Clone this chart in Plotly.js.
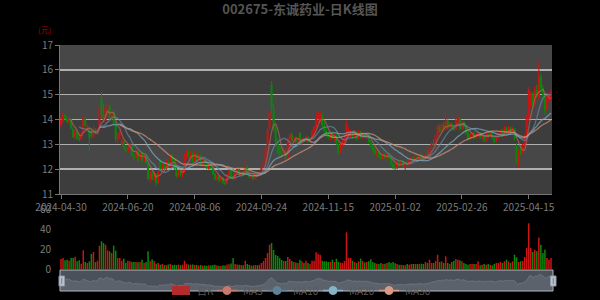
<!DOCTYPE html>
<html>
<head>
<meta charset="utf-8">
<script src="https://cdn.plot.ly/plotly-3.0.1.min.js"></script>
<style>
  html, body { margin: 0; padding: 0; background: #000; }
  #chart { width: 600px; height: 300px; }
</style>
</head>
<body>
<div id="chart"></div>
<script>
// Trading days
const dates = [
  '2024-04-30',
  '2024-05-06','2024-05-07','2024-05-08','2024-05-09','2024-05-10',
  '2024-05-13','2024-05-14','2024-05-15','2024-05-16','2024-05-17',
  '2024-05-20','2024-05-21','2024-05-22','2024-05-23','2024-05-24',
  '2024-05-27','2024-05-28','2024-05-29','2024-05-30','2024-05-31',
  '2024-06-03','2024-06-04','2024-06-05','2024-06-06','2024-06-07',
  '2024-06-11','2024-06-12','2024-06-13','2024-06-14',
  '2024-06-17','2024-06-18','2024-06-19','2024-06-20','2024-06-21',
  '2024-06-24','2024-06-25','2024-06-26','2024-06-27','2024-06-28',
  '2024-07-01','2024-07-02','2024-07-03','2024-07-04','2024-07-05',
  '2024-07-08','2024-07-09','2024-07-10','2024-07-11','2024-07-12',
  '2024-07-15','2024-07-16','2024-07-17','2024-07-18','2024-07-19',
  '2024-07-22','2024-07-23','2024-07-24','2024-07-25','2024-07-26',
  '2024-07-29','2024-07-30','2024-07-31','2024-08-01','2024-08-02',
  '2024-08-05','2024-08-06','2024-08-07','2024-08-08','2024-08-09',
  '2024-08-12','2024-08-13','2024-08-14','2024-08-15','2024-08-16',
  '2024-08-19','2024-08-20','2024-08-21','2024-08-22','2024-08-23',
  '2024-08-26','2024-08-27','2024-08-28','2024-08-29','2024-08-30',
  '2024-09-02','2024-09-03','2024-09-04','2024-09-05','2024-09-06',
  '2024-09-09','2024-09-10','2024-09-11','2024-09-12','2024-09-13',
  '2024-09-18','2024-09-19','2024-09-20',
  '2024-09-23','2024-09-24','2024-09-25','2024-09-26','2024-09-27',
  '2024-09-30',
  '2024-10-08','2024-10-09','2024-10-10','2024-10-11',
  '2024-10-14','2024-10-15','2024-10-16','2024-10-17','2024-10-18',
  '2024-10-21','2024-10-22','2024-10-23','2024-10-24','2024-10-25',
  '2024-10-28','2024-10-29','2024-10-30','2024-10-31','2024-11-01',
  '2024-11-04','2024-11-05','2024-11-06','2024-11-07','2024-11-08',
  '2024-11-11','2024-11-12','2024-11-13','2024-11-14','2024-11-15',
  '2024-11-18','2024-11-19','2024-11-20','2024-11-21','2024-11-22',
  '2024-11-25','2024-11-26','2024-11-27','2024-11-28','2024-11-29',
  '2024-12-02','2024-12-03','2024-12-04','2024-12-05','2024-12-06',
  '2024-12-09','2024-12-10','2024-12-11','2024-12-12','2024-12-13',
  '2024-12-16','2024-12-17','2024-12-18','2024-12-19','2024-12-20',
  '2024-12-23','2024-12-24','2024-12-25','2024-12-26','2024-12-27',
  '2024-12-30','2024-12-31',
  '2025-01-02','2025-01-03',
  '2025-01-06','2025-01-07','2025-01-08','2025-01-09','2025-01-10',
  '2025-01-13','2025-01-14','2025-01-15','2025-01-16','2025-01-17',
  '2025-01-20','2025-01-21','2025-01-22','2025-01-23','2025-01-24',
  '2025-01-27',
  '2025-02-05','2025-02-06','2025-02-07',
  '2025-02-10','2025-02-11','2025-02-12','2025-02-13','2025-02-14',
  '2025-02-17','2025-02-18','2025-02-19','2025-02-20','2025-02-21',
  '2025-02-24','2025-02-25','2025-02-26','2025-02-27','2025-02-28',
  '2025-03-03','2025-03-04','2025-03-05','2025-03-06','2025-03-07',
  '2025-03-10','2025-03-11','2025-03-12','2025-03-13','2025-03-14',
  '2025-03-17','2025-03-18','2025-03-19','2025-03-20','2025-03-21',
  '2025-03-24','2025-03-25','2025-03-26','2025-03-27','2025-03-28',
  '2025-03-31','2025-04-01','2025-04-02','2025-04-03',
  '2025-04-07','2025-04-08','2025-04-09','2025-04-10','2025-04-11',
  '2025-04-14','2025-04-15','2025-04-16','2025-04-17','2025-04-18',
  '2025-04-21','2025-04-22','2025-04-23','2025-04-24','2025-04-25',
  '2025-04-28','2025-04-29','2025-04-30'
];

const openPrice = [
  13.75,13.95,14.18,14.05,13.90,14.00,13.62,13.28,13.52,13.25,
  13.20,13.45,14.00,13.60,13.68,13.55,13.30,13.60,13.45,13.60,
  14.85,14.20,13.95,14.40,14.55,14.05,14.30,13.85,13.18,13.35,
  13.00,13.12,12.85,12.70,12.85,12.95,12.55,12.45,12.70,12.40,
  12.65,12.35,12.55,12.20,11.60,11.85,11.58,11.80,11.45,12.35,
  12.00,12.15,12.00,12.28,12.10,12.50,12.35,12.02,11.72,11.90,
  11.78,11.88,12.48,12.70,12.50,12.62,12.30,12.60,12.38,12.55,
  12.20,12.35,12.25,12.02,12.20,12.08,11.82,11.60,11.70,11.55,
  11.65,11.48,11.42,11.75,11.92,11.70,11.60,11.85,12.00,11.78,
  11.88,11.78,12.10,11.85,11.68,11.72,11.62,11.78,11.75,11.95,
  12.12,12.30,12.95,13.65,15.40,14.40,13.65,13.10,12.90,12.60,
  12.50,12.72,12.45,13.20,13.38,13.15,13.28,13.10,13.45,13.05,
  13.22,13.15,13.28,13.12,13.25,13.55,13.70,14.10,13.95,14.20,
  13.78,13.55,13.40,13.28,13.38,13.25,13.38,13.02,12.70,12.95,
  13.10,13.25,13.40,13.30,13.50,13.30,13.48,13.22,13.50,13.35,
  13.42,13.30,13.38,13.10,12.92,12.78,12.62,12.70,12.52,12.42,
  12.58,12.48,12.62,12.45,12.22,12.08,12.05,12.30,12.15,12.35,
  12.10,12.25,12.15,12.40,12.48,12.36,12.50,12.40,12.58,12.45,
  12.38,12.62,12.58,12.92,13.05,13.00,13.35,13.70,13.52,13.78,
  13.62,13.95,13.68,13.82,13.65,13.60,13.95,14.02,13.62,13.88,
  13.70,13.45,13.22,13.40,13.45,13.25,13.42,13.48,13.28,13.35,
  13.15,13.40,13.35,13.48,13.25,13.12,13.35,13.42,13.55,13.35,
  13.65,13.48,13.68,13.58,13.60,12.95,12.30,12.70,12.65,12.98,
  13.30,14.05,14.55,15.05,14.60,15.20,14.90,15.70,15.25,14.95,
  14.40,14.75,14.80
];

const highPrice = [
  14.05,14.30,14.22,14.15,14.10,14.05,13.70,13.62,13.58,13.40,
  13.48,14.20,14.08,13.80,13.72,13.65,13.72,13.66,13.65,14.55,
  15.10,14.65,14.62,14.68,14.60,14.40,14.38,13.95,13.50,13.58,
  13.25,13.15,12.92,12.95,13.05,13.00,12.62,12.80,12.78,12.75,
  12.70,12.62,12.60,12.22,11.95,11.98,11.92,11.82,11.95,12.40,
  12.22,12.25,12.38,12.35,12.60,12.62,12.40,12.10,11.98,11.98,
  11.95,12.60,12.78,12.80,12.72,12.68,12.70,12.65,12.62,12.60,
  12.42,12.40,12.30,12.28,12.25,12.15,11.85,11.78,11.75,11.72,
  11.68,11.52,11.80,12.00,11.98,12.05,11.90,12.08,12.05,11.95,
  11.92,12.43,12.15,11.95,11.82,11.78,11.85,11.88,11.98,12.15,
  12.35,12.95,13.70,14.40,15.55,14.65,13.90,13.25,12.95,12.75,
  12.82,12.78,13.30,13.45,13.48,13.35,13.32,13.30,13.50,13.30,
  13.28,13.35,13.32,13.30,13.60,13.78,14.30,14.30,14.30,14.25,
  13.90,13.65,13.50,13.45,13.52,13.45,13.42,13.08,13.05,13.20,
  13.30,13.96,13.70,13.58,13.55,13.55,13.52,13.58,13.55,13.48,
  13.46,13.45,13.40,13.15,13.00,12.85,12.75,12.78,12.60,12.62,
  12.66,12.68,12.65,12.50,12.28,12.20,12.38,12.35,12.40,12.38,
  12.30,12.32,12.45,12.52,12.50,12.55,12.55,12.62,12.62,12.52,
  12.68,12.75,12.95,13.10,13.20,13.40,13.80,13.80,13.85,13.88,
  14.27,14.00,13.90,13.88,13.80,14.05,14.20,14.10,13.95,13.92,
  13.78,13.55,13.45,13.50,13.52,13.48,13.52,13.50,13.42,13.38,
  13.45,13.50,13.52,13.50,13.30,13.40,13.48,13.60,13.62,13.72,
  13.70,13.75,13.72,13.70,13.65,13.05,12.80,12.95,13.02,13.40,
  14.20,15.30,15.15,15.10,15.35,15.40,16.33,15.85,15.40,15.00,
  14.95,15.10,15.22
];

const lowPrice = [
  13.70,13.85,13.95,13.88,13.82,13.60,13.25,13.20,13.18,13.12,
  13.15,13.40,13.70,13.50,12.73,13.25,13.28,13.40,13.40,13.55,
  14.05,13.90,13.88,14.10,14.00,13.95,13.75,13.10,13.05,13.22,
  12.95,12.80,12.65,12.65,12.78,12.50,12.38,12.42,12.30,12.35,
  12.28,12.30,12.20,11.55,11.47,11.55,11.50,11.33,11.40,11.95,
  11.90,11.95,11.98,12.05,12.08,12.30,11.98,11.65,11.68,11.70,
  11.68,11.85,12.40,12.45,12.42,12.25,12.25,12.30,12.30,12.15,
  12.10,12.18,12.00,11.98,12.00,11.75,11.55,11.55,11.48,11.50,
  11.40,11.35,11.40,11.70,11.60,11.55,11.58,11.80,11.72,11.72,
  11.70,11.75,11.80,11.62,11.60,11.55,11.58,11.68,11.72,11.90,
  12.05,12.25,12.85,13.55,14.20,13.50,12.95,12.55,12.52,12.45,
  12.45,12.38,12.40,13.05,13.08,13.05,13.02,13.05,13.00,12.98,
  13.08,13.10,13.05,13.05,13.20,13.35,13.65,13.85,13.88,13.70,
  13.45,13.30,13.20,13.15,13.20,13.12,12.95,12.60,12.65,12.85,
  13.00,13.20,13.35,13.28,13.22,13.25,13.15,13.18,13.22,13.20,
  13.25,13.22,13.05,12.85,12.70,12.58,12.45,12.48,12.35,12.38,
  12.40,12.42,12.38,12.15,12.00,11.97,12.00,12.08,12.10,12.05,
  11.97,12.12,12.10,12.30,12.32,12.30,12.35,12.38,12.40,12.32,
  12.35,12.50,12.55,12.80,12.95,12.95,13.30,13.45,13.48,13.55,
  13.58,13.60,13.55,13.58,13.52,13.58,13.85,13.55,13.58,13.62,
  13.38,13.15,13.18,13.30,13.20,13.22,13.28,13.22,13.20,13.10,
  13.10,13.28,13.30,13.20,13.05,13.08,13.20,13.35,13.28,13.30,
  13.40,13.42,13.50,13.45,13.15,12.20,12.07,12.55,12.60,12.90,
  13.20,13.95,14.45,14.50,14.55,14.85,14.80,15.10,14.85,14.20,
  14.35,14.68,14.72
];

const closePrice = [
  13.98,14.20,14.02,13.92,14.02,13.65,13.30,13.55,13.22,13.20,
  13.42,14.05,13.78,13.70,13.25,13.32,13.62,13.45,13.58,14.48,
  14.15,13.98,14.50,14.58,14.08,14.30,13.85,13.20,13.40,13.48,
  13.15,12.85,12.72,12.88,12.98,12.55,12.45,12.72,12.38,12.66,
  12.35,12.55,12.25,11.62,11.88,11.60,11.85,11.45,11.90,12.02,
  12.15,12.02,12.30,12.12,12.52,12.38,12.05,11.72,11.92,11.78,
  11.88,12.50,12.70,12.52,12.65,12.30,12.62,12.38,12.55,12.20,
  12.35,12.25,12.05,12.22,12.10,11.82,11.60,11.72,11.55,11.66,
  11.48,11.42,11.75,11.92,11.65,11.62,11.85,12.00,11.78,11.90,
  11.76,12.10,11.85,11.68,11.75,11.60,11.80,11.75,11.92,12.10,
  12.28,12.88,13.60,14.30,14.45,13.60,13.10,12.65,12.60,12.52,
  12.78,12.45,13.22,13.38,13.15,13.28,13.10,13.25,13.05,13.22,
  13.15,13.30,13.12,13.25,13.55,13.70,14.15,14.20,14.22,13.78,
  13.55,13.38,13.28,13.40,13.25,13.38,13.05,12.68,12.98,13.12,
  13.25,13.85,13.55,13.50,13.30,13.48,13.22,13.50,13.30,13.42,
  13.30,13.40,13.10,12.92,12.78,12.62,12.70,12.52,12.42,12.58,
  12.48,12.62,12.45,12.22,12.08,12.05,12.32,12.15,12.36,12.12,
  12.25,12.18,12.40,12.48,12.36,12.50,12.40,12.58,12.45,12.38,
  12.62,12.58,12.90,13.05,13.00,13.35,13.72,13.52,13.78,13.62,
  13.95,13.68,13.82,13.65,13.60,13.98,14.05,13.62,13.88,13.70,
  13.45,13.22,13.40,13.45,13.25,13.42,13.48,13.28,13.35,13.15,
  13.40,13.35,13.48,13.25,13.12,13.35,13.42,13.55,13.35,13.65,
  13.48,13.68,13.58,13.62,13.22,12.30,12.72,12.62,12.98,13.30,
  14.15,15.20,15.05,14.60,15.20,14.95,15.75,15.25,14.95,14.35,
  14.85,15.00,15.10
];

// Daily volume
const volume = [
  10,11,8.7,9.3,8.3,11,11,12.3,7.7,8.7,
  5.3,18.7,7,6,7.7,15,17,7,8.3,23.3,
  27.7,26,24.3,18.7,17.7,16,23.3,18.3,11,11,
  8.3,10.3,6,8.3,7.7,7,7,7,6.7,7,
  9.3,6,7,17.7,7.7,9.7,8,5.3,6,4.3,
  5,3.7,4,4.5,5,4,4.3,4,4.5,3.8,
  4.3,8.3,5,4.5,4.3,4.6,4,4,3.5,4,
  3.3,3.5,3.2,3.8,3.5,4,4.2,3.5,3.3,3,
  3.8,3.5,4.5,4.8,5.5,11,5,4.5,4.2,4,
  3.8,8.3,5,4.2,3.5,3.5,4,3.8,4.3,6,
  8,11,16,24.3,26,19,14,13,11,9,
  8,8,12,10,8,7,6.5,6,9.3,7.7,
  6,8.3,6,5,8.3,8.3,16.7,15,14.3,8.3,
  7.7,7.7,7,7,9.3,7,10.3,7,6.5,6,
  8,36.7,11,11,8.3,7,6,7.7,10.3,8,
  6.5,7,7.7,9.7,7,6,5.3,5,6,5,
  5.3,6,7,6,7,5.7,5,4.3,4.3,3.7,
  3.7,5,4.3,5,5,5,5,5,5.3,5,
  7,6,9.3,6,6,8,14.3,7,7.7,6,
  12.7,6,5,7,8.3,10,9.3,8.7,7.7,6,
  5,4.3,5,5,5,5,7.7,3.7,4.3,5,
  4.3,5,4.3,3.7,5,6,6,7,6,7.7,
  9.3,7.7,6,7.7,14.3,11.7,7,7.7,8,12,
  21,45.7,21,17,19.3,17.7,31.5,24.3,16,19.3,
  11,9.3,11
];

const tickDates = ['2024-04-30','2024-06-20','2024-08-06','2024-09-24','2024-11-15','2025-01-02','2025-02-26','2025-04-15'];
const maPeriods = [5, 10, 20, 30];
const maNames = ['MA5', 'MA10', 'MA20', 'MA30'];
const maColors = ['rgba(200,100,92,0.6)', 'rgba(95,135,160,0.72)', 'rgba(125,170,190,0.72)', 'rgba(212,145,122,0.72)'];
const legendColors = ['#c97870', '#5f8198', '#86b4c6', '#d89a86'];

const UP = '#cc1414';
const DOWN = '#0a880a';
const FONT = '"Noto Sans CJK SC", "Noto Sans", sans-serif';

// pixel helpers (600 x 300 canvas)
const W = 600, H = 300;
const px = x => x / W;
const py = y => 1 - y / H;

function movingAverage(n) {
  const out = [];
  for (let i = 0; i < closePrice.length; i++) {
    if (i < n - 1) { out.push(null); continue; }
    let s = 0;
    for (let k = i - n + 1; k <= i; k++) s += closePrice[k];
    out.push(+(s / n).toFixed(3));
  }
  return out;
}

const N = dates.length;
const xRange = [-0.5, N - 0.5];
const volColors = closePrice.map((c, i) => (c >= openPrice[i] ? UP : DOWN));

const traces = [];
traces.push({
  type: 'candlestick', name: '日K',
  x: dates, open: openPrice, high: highPrice, low: lowPrice, close: closePrice,
  xaxis: 'x', yaxis: 'y',
  increasing: { line: { color: UP, width: 1 }, fillcolor: UP },
  decreasing: { line: { color: DOWN, width: 1 }, fillcolor: DOWN },
  whiskerwidth: 0, hoverinfo: 'skip', showlegend: false
});
maPeriods.forEach((p, k) => {
  traces.push({
    type: 'scatter', mode: 'lines', name: maNames[k],
    x: dates, y: movingAverage(p), xaxis: 'x', yaxis: 'y',
    line: { color: maColors[k], width: 1.3, shape: 'spline', smoothing: 0.8 },
    hoverinfo: 'skip', showlegend: false
  });
});
traces.push({
  type: 'bar', name: '成交量', x: dates, y: volume, xaxis: 'x2', yaxis: 'y2',
  marker: { color: volColors, line: { width: 0 } },
  hoverinfo: 'skip', showlegend: false
});
// data shadow inside the zoom slider
const cMin = Math.min(...closePrice), cMax = Math.max(...closePrice);
const cPad = (cMax - cMin) * 0.3;
traces.push({
  type: 'scatter', mode: 'lines', x: dates, y: closePrice, xaxis: 'x3', yaxis: 'y3',
  fill: 'tozeroy', fillcolor: 'rgba(160,170,182,0.2)',
  line: { color: 'rgba(175,185,195,0.3)', width: 0.8 },
  hoverinfo: 'skip', showlegend: false
});

// alternating background bands of the price panel
const bandColors = ['#3d3d3d', '#474747'];
const shapes = [];
for (let v = 11; v < 17; v++) {
  shapes.push({
    type: 'rect', layer: 'below', xref: 'x domain', yref: 'y',
    x0: 0, x1: 1, y0: v, y1: v + 1,
    fillcolor: bandColors[(v - 11) % 2], line: { width: 0 }
  });
}
// zoom slider body
shapes.push({
  type: 'rect', layer: 'below', xref: 'paper', yref: 'paper',
  x0: px(60), x1: px(553), y0: py(291), y1: py(270),
  fillcolor: '#4a515b', line: { width: 0 }
});
shapes.push({
  type: 'rect', layer: 'above', xref: 'paper', yref: 'paper',
  x0: px(60), x1: px(553), y0: py(291), y1: py(270),
  fillcolor: 'rgba(0,0,0,0)', line: { color: '#b4b8bf', width: 1 }
});
[[59, 64.5], [550.5, 556]].forEach(([a, b]) => {
  shapes.push({
    type: 'rect', layer: 'above', xref: 'paper', yref: 'paper',
    x0: px(a), x1: px(b), y0: py(286), y1: py(276),
    fillcolor: '#b9c3d0', line: { color: '#8e99a8', width: 1 }
  });
  shapes.push({
    type: 'line', layer: 'above', xref: 'paper', yref: 'paper',
    x0: px((a + b) / 2), x1: px((a + b) / 2), y0: py(284), y1: py(278),
    line: { color: '#6f7a88', width: 1 }
  });
});

// legend
const LEG_Y = 290.5;
shapes.push({
  type: 'rect', layer: 'above', xref: 'paper', yref: 'paper',
  x0: px(172), x1: px(190), y0: py(295), y1: py(286),
  fillcolor: '#b52a2a', line: { width: 0 }
});
const annotations = [];
annotations.push({
  xref: 'paper', yref: 'paper', x: px(195), y: py(LEG_Y), xanchor: 'left', yanchor: 'middle',
  text: '日K', showarrow: false, font: { family: FONT, size: 10, color: '#5c5c5c' }
});
const legendX = [217, 267, 323, 379];
maNames.forEach((nm, k) => {
  const x0 = legendX[k];
  shapes.push({
    type: 'line', layer: 'above', xref: 'paper', yref: 'paper',
    x0: px(x0), x1: px(x0 + 20), y0: py(LEG_Y), y1: py(LEG_Y),
    line: { color: legendColors[k], width: 1.5 }
  });
  shapes.push({
    type: 'circle', layer: 'above', xref: 'paper', yref: 'paper',
    x0: px(x0 + 6), x1: px(x0 + 14), y0: py(LEG_Y + 4), y1: py(LEG_Y - 4),
    fillcolor: legendColors[k], line: { color: legendColors[k], width: 1 }
  });
  annotations.push({
    xref: 'paper', yref: 'paper', x: px(x0 + 24), y: py(LEG_Y), xanchor: 'left', yanchor: 'middle',
    text: nm, showarrow: false, font: { family: FONT, size: 10, color: '#5c5c5c' }
  });
});
annotations.push({
  xref: 'paper', yref: 'paper', x: px(44), y: py(30), xanchor: 'center', yanchor: 'middle',
  text: '(元)', showarrow: false, font: { family: FONT, size: 8, color: '#a00000' }
});

const axisFont = { family: FONT, size: 10, color: '#7c7c7c' };

const layout = {
  width: W, height: H,
  margin: { l: 0, r: 0, t: 0, b: 0, pad: 0 },
  paper_bgcolor: '#000', plot_bgcolor: 'rgba(0,0,0,0)',
  showlegend: false,
  boxgap: 0.3,
  bargap: 0.25,
  title: {
    text: '002675-东诚药业-日K线图', x: 0.5, xanchor: 'center', xref: 'paper',
    y: py(9), yanchor: 'middle', yref: 'container',
    font: { family: FONT, size: 13, color: '#555555', weight: 'bold' }
  },
  xaxis: {
    domain: [px(60), px(552)], anchor: 'y', type: 'category', range: xRange,
    rangeslider: { visible: false },
    tickmode: 'array', tickvals: tickDates, ticktext: tickDates,
    ticks: 'outside', ticklen: 4, tickcolor: '#777', tickwidth: 1,
    showline: true, linecolor: '#777', linewidth: 1,
    showgrid: false, zeroline: false, tickfont: axisFont, fixedrange: true
  },
  yaxis: {
    domain: [py(194), py(45)], anchor: 'x', range: [11, 17],
    tickmode: 'linear', tick0: 11, dtick: 1,
    showgrid: true, gridcolor: '#b0b0b0', gridwidth: 1.5, zeroline: false,
    ticks: 'outside', ticklen: 4, tickcolor: '#777', tickwidth: 1,
    showline: true, linecolor: '#777', linewidth: 1,
    tickfont: axisFont, fixedrange: true
  },
  xaxis2: {
    domain: [px(60), px(552)], anchor: 'y2', type: 'category', range: xRange,
    showticklabels: false, ticks: '', showline: false, showgrid: false, zeroline: false,
    fixedrange: true
  },
  yaxis2: {
    domain: [py(269), py(209)], anchor: 'x2', range: [0, 60],
    tickmode: 'array', tickvals: [0, 20, 40, 60],
    showgrid: false, zeroline: false, showline: false,
    ticks: 'outside', ticklen: 6, tickcolor: 'rgba(0,0,0,0)',
    tickfont: axisFont, fixedrange: true
  },
  xaxis3: {
    domain: [px(60), px(553)], anchor: 'y3', type: 'category', range: xRange,
    showticklabels: false, ticks: '', showline: false, showgrid: false, zeroline: false,
    fixedrange: true
  },
  yaxis3: {
    domain: [py(291), py(270)], anchor: 'x3', range: [cMin - cPad, cMax + cPad],
    showticklabels: false, ticks: '', showline: false, showgrid: false, zeroline: false,
    fixedrange: true
  },
  shapes: shapes,
  annotations: annotations
};

Plotly.newPlot('chart', traces, layout, { staticPlot: true, displayModeBar: false });
</script>
</body>
</html>
